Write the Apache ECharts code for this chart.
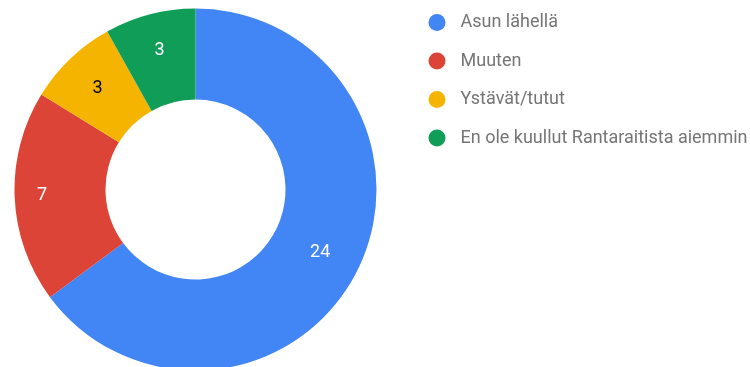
<!DOCTYPE html>
<html>
<head>
<meta charset="utf-8">
<script src="https://cdn.jsdelivr.net/npm/echarts@6/dist/echarts.min.js"></script>
<style>
  html, body { margin: 0; padding: 0; background: #fff; }
  #chart { width: 750px; height: 367px; }
</style>
</head>
<body>
<div id="chart"></div>
<script>
// Responses: how people heard about Rantaraitti
const categories = ['Asun lähellä', 'Muuten', 'Ystävät/tutut', 'En ole kuullut Rantaraitista aiemmin'];
const counts = [24, 7, 3, 3];
const sliceColors = ['#4285F4', '#DB4437', '#F4B400', '#0F9D58'];
const labelColors = ['#ffffff', '#ffffff', '#000000', '#ffffff'];

// nudge value labels slightly outward from the ring's middle
const labelOffsets = [[1, 1], [-15, 0], [-2, -1], [-1, -5]];

const chart = echarts.init(document.getElementById('chart'), null, { renderer: 'canvas' });

chart.setOption({
  animation: false,
  textStyle: { fontFamily: 'Roboto, sans-serif' },
  legend: {
    orient: 'vertical',
    left: 428.5,
    top: 13.5,
    padding: 0,
    icon: 'circle',
    itemWidth: 17,
    itemHeight: 17,
    itemGap: 20.5,
    textStyle: {
      fontFamily: 'Roboto, sans-serif',
      fontSize: 18,
      lineHeight: 17,
      color: '#757575',
      padding: [0, 0, 0, 10]
    },
    data: categories
  },
  series: [{
    type: 'pie',
    center: [195.5, 189.5],
    radius: [90, 181],
    startAngle: 90,
    clockwise: true,
    avoidLabelOverlap: false,
    label: {
      show: true,
      position: 'inside',
      formatter: '{c}',
      fontFamily: 'Roboto, sans-serif',
      fontSize: 18
    },
    labelLine: { show: false },
    emphasis: { disabled: true },
    itemStyle: { borderWidth: 0 },
    data: categories.map((name, i) => ({
      name,
      value: counts[i],
      itemStyle: { color: sliceColors[i] },
      label: { color: labelColors[i], offset: labelOffsets[i] }
    }))
  }]
});
</script>
</body>
</html>
